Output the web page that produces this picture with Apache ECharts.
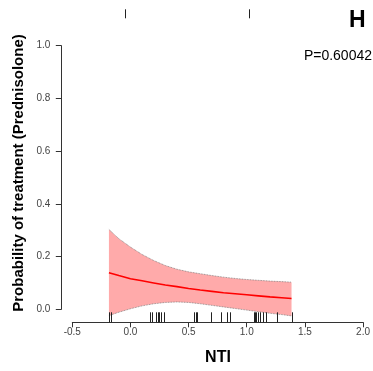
<!DOCTYPE html>
<html><head><meta charset="utf-8">
<script src="https://cdn.jsdelivr.net/npm/echarts@6/dist/echarts.min.js"></script>
<style>html,body{margin:0;padding:0;background:#fff}#c{width:373px;height:371px}</style>
</head><body><div id="c"></div>
<script>
// Fitted curve and confidence band
const curveX = [-0.185,-0.1,0.0,0.1,0.2,0.3,0.4,0.5,0.6,0.7,0.8,0.9,1.0,1.1,1.2,1.3,1.385];
const fitY   = [0.139,0.128,0.116,0.108,0.100,0.092,0.086,0.079,0.073,0.068,0.063,0.059,0.055,0.051,0.047,0.044,0.041];
const upperY = [0.303,0.268,0.236,0.208,0.185,0.166,0.152,0.142,0.135,0.128,0.122,0.117,0.113,0.110,0.107,0.105,0.103];
const lowerY = [-0.024,-0.011,0.002,0.013,0.021,0.026,0.028,0.026,0.021,0.015,0.009,0.003,-0.003,-0.009,-0.015,-0.020,-0.025];
// Rug marks (untreated at bottom, treated at top)
const rugBottom = [-0.185,-0.164,0.165,0.188,0.217,0.237,0.243,0.260,0.288,0.544,0.561,0.576,0.690,0.782,0.834,0.854,1.063,1.074,1.083,1.097,1.111,1.140,1.163,1.256,1.385];
const rugTop = [-0.050,1.017];
// Axis ticks
const xTicks = [-0.5,0.0,0.5,1.0,1.5,2.0];
const yTicks = [0.0,0.2,0.4,0.6,0.8,1.0];
const pText = 'P=0.60042';
const panel = 'H';

const chart = echarts.init(document.getElementById('c'), null, {renderer:'canvas'});
const FONT = '"Liberation Sans", Arial, sans-serif';
const axisCol = '#333';

const bandPoly = {
  type:'custom', clip:false, silent:true, z:1,
  data:[[0]],
  renderItem:function(params, api){
    const pts = [];
    for (let i=0;i<curveX.length;i++) pts.push(api.coord([curveX[i], upperY[i]]));
    for (let i=curveX.length-1;i>=0;i--) pts.push(api.coord([curveX[i], lowerY[i]]));
    return {type:'polygon', shape:{points:pts}, style:{fill:'#FFAAAA', stroke:null}};
  }
};
function rugSeries(vals, dy0, dy1, yRef){
  return {
    type:'custom', clip:false, silent:true, z:5,
    data: vals.map(v=>[v, yRef]),
    renderItem:function(params, api){
      const p = api.coord([api.value(0), api.value(1)]);
      const x = Math.round(p[0])+0.5;
      return {type:'line', shape:{x1:x, y1:p[1]+dy0, x2:x, y2:p[1]+dy1}, style:{stroke:'#222', lineWidth:1}};
    }
  };
}
const zipLine = (ys)=>curveX.map((x,i)=>[x, ys[i]]);

chart.setOption({
  animation:false,
  backgroundColor:'#fff',
  grid:{left:72.3, right:9.7, top:45.7, bottom:61.7, containLabel:false},
  xAxis:{
    type:'value', min:-0.5, max:2.0, interval:0.5, offset:13,
    axisLine:{show:true, onZero:false, lineStyle:{color:axisCol, width:1}},
    axisTick:{show:true, length:5, lineStyle:{color:axisCol}},
    axisLabel:{color:'#444', fontSize:10, fontFamily:FONT, margin:5,
      formatter:v=>xTicks.includes(+v.toFixed(1)) ? v.toFixed(1) : ''},
    splitLine:{show:false}
  },
  yAxis:{
    type:'value', min:0, max:1, interval:0.2, offset:11,
    axisLine:{show:true, onZero:false, lineStyle:{color:axisCol, width:1}},
    axisTick:{show:true, length:5.5, lineStyle:{color:axisCol}},
    axisLabel:{color:'#444', fontSize:10, fontFamily:FONT, margin:11,
      formatter:v=>yTicks.includes(+v.toFixed(1)) ? v.toFixed(1) : ''},
    splitLine:{show:false}
  },
  series:[
    bandPoly,
    {type:'line', data:zipLine(upperY), clip:false, symbol:'none', z:2,
      lineStyle:{color:'#777', width:0.8, type:'dotted'}},
    {type:'line', data:zipLine(lowerY), clip:false, symbol:'none', z:2,
      lineStyle:{color:'#777', width:0.8, type:'dotted'}},
    {type:'line', data:zipLine(fitY), clip:false, symbol:'none', z:3,
      lineStyle:{color:'#FF0000', width:1.6}},
    rugSeries(rugBottom, 3, 13, 0),
    rugSeries(rugTop, -36.4, -27.4, 1)
  ],
  graphic:[
    {type:'text', left:349, top:9, style:{text:panel, font:'bold 23px '+FONT, fill:'#000'}},
    {type:'text', right:1, top:49, style:{text:pText, font:'14px '+FONT, fill:'#000'}},
    {type:'text', x:218, y:358, style:{text:'NTI', font:'bold 16px '+FONT, fill:'#000', align:'center', verticalAlign:'middle'}},
    {type:'text', x:19, y:173, rotation:Math.PI/2, style:{text:'Probability of treatment (Prednisolone)', font:'bold 15px '+FONT, fill:'#000', align:'center', verticalAlign:'middle'}}
  ]
});
</script></body></html>
